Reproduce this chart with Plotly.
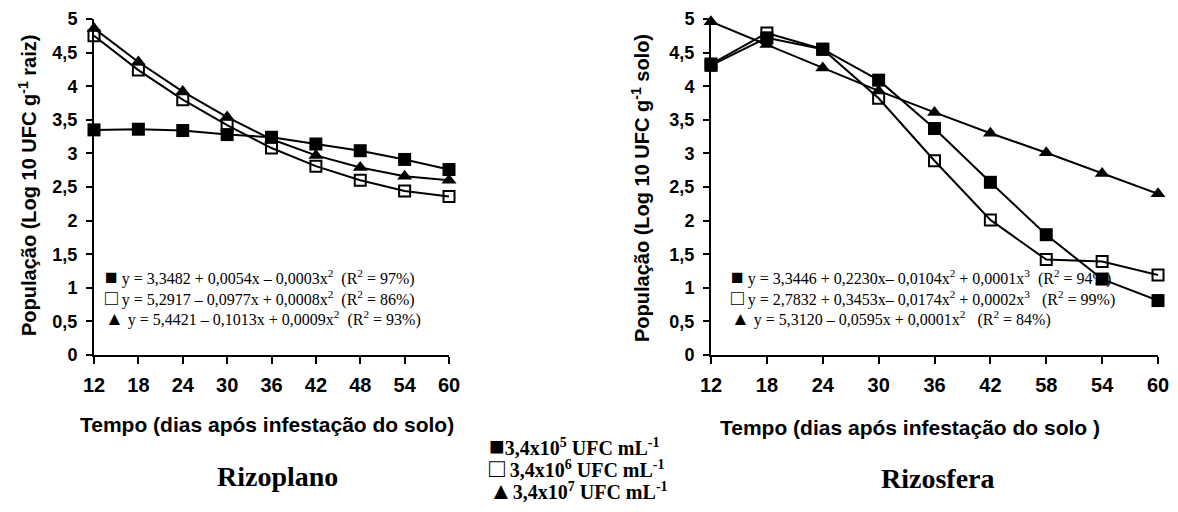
import plotly.graph_objects as go

# ---------------- data ----------------
cats_rizoplano = ["12", "18", "24", "30", "36", "42", "48", "54", "60"]
cats_rizosfera = ["12", "18", "24", "30", "36", "42", "58", "54", "60"]

rizoplano_1e5 = [3.35, 3.36, 3.34, 3.28, 3.24, 3.14, 3.04, 2.91, 2.76]
rizoplano_1e6 = [4.75, 4.24, 3.80, 3.42, 3.08, 2.81, 2.60, 2.44, 2.36]
rizoplano_1e7 = [4.86, 4.36, 3.92, 3.54, 3.21, 2.97, 2.79, 2.66, 2.60]

rizosfera_1e5 = [4.31, 4.72, 4.55, 4.09, 3.37, 2.57, 1.79, 1.13, 0.81]
rizosfera_1e6 = [4.33, 4.79, 4.55, 3.82, 2.89, 2.01, 1.42, 1.39, 1.19]
rizosfera_1e7 = [4.96, 4.62, 4.27, 3.93, 3.61, 3.30, 3.01, 2.70, 2.40]

y_tickvals = [0, 0.5, 1, 1.5, 2, 2.5, 3, 3.5, 4, 4.5, 5]
y_ticktext = ["0", "0,5", "1", "1,5", "2", "2,5", "3", "3,5", "4", "4,5", "5"]

SYM_SQ = '<span style="font-size:21px">■</span>'
SYM_OSQ = '<span style="font-size:21px">□</span>'
SYM_TRI = '<span style="font-size:19px">▲</span>'

eq_rizoplano = [
    SYM_SQ + " y = 3,3482 + 0,0054x – 0,0003x<sup>2</sup>  (R<sup>2</sup> = 97%)",
    SYM_OSQ + " y = 5,2917 – 0,0977x + 0,0008x<sup>2</sup>  (R<sup>2</sup> = 86%)",
    SYM_TRI + " y = 5,4421 – 0,1013x + 0,0009x<sup>2</sup>  (R<sup>2</sup> = 93%)",
]
eq_rizosfera = [
    SYM_SQ + " y = 3,3446 + 0,2230x– 0,0104x<sup>2</sup> + 0,0001x<sup>3</sup>  (R<sup>2</sup> = 94%)",
    SYM_OSQ + " y = 2,7832 + 0,3453x– 0,0174x<sup>2</sup> + 0,0002x<sup>3</sup>   (R<sup>2</sup> = 99%)",
    SYM_TRI + " y = 5,3120 – 0,0595x + 0,0001x<sup>2</sup>   (R<sup>2</sup> = 84%)",
]
legend_labels = [
    '<span style="font-size:26px">■</span>3,4x10<sup>5</sup> UFC mL<sup>-1</sup>',
    '<span style="font-size:26px">□</span> 3,4x10<sup>6</sup> UFC mL<sup>-1</sup>',
    '<span style="font-size:24px">▲</span>3,4x10<sup>7</sup> UFC mL<sup>-1</sup>',
]

# ---------------- figure ----------------
# The page body has an 8px default margin; the figure is sized so that it
# fits the 1178x512 window and reference pixel positions are offset by 8px.
OFF = 8
W, H = 1178 - 2 * OFF, 512 - 2 * OFF
SANS = "Liberation Sans, Arial, sans-serif"
SERIF = "Liberation Serif, Times New Roman, serif"

def px_x(p):
    return (p - OFF) / W

def px_y(p):
    return 1 - (p - OFF) / H

fig = go.Figure()

series_style = [
    dict(symbol="square", size=13, color="black", line=dict(width=0)),
    dict(symbol="square-open", size=11, color="black", line=dict(width=2, color="black")),
    dict(symbol="triangle-up", size=13, color="black", line=dict(width=0)),
]

for cats, vals_list, xa, ya in [
    (cats_rizoplano, [rizoplano_1e5, rizoplano_1e6, rizoplano_1e7], "x", "y"),
    (cats_rizosfera, [rizosfera_1e5, rizosfera_1e6, rizosfera_1e7], "x2", "y2"),
]:
    for vals, mk in zip(vals_list, series_style):
        fig.add_trace(go.Scatter(
            x=cats, y=vals, xaxis=xa, yaxis=ya, mode="lines+markers",
            line=dict(color="black", width=2), marker=mk,
            cliponaxis=False, showlegend=False,
        ))

ydom = [px_y(355), px_y(19)]

common_x = dict(
    type="category", range=[0, 8], showline=True, linewidth=2, linecolor="black",
    ticks="outside", ticklen=7, tickwidth=2, tickcolor="black",
    showgrid=False, zeroline=False, automargin=False,
    tickfont=dict(family=SANS, size=20, color="black", weight="bold"),
    ticklabelstandoff=4,
)
common_y = dict(
    range=[0, 5], showline=True, linewidth=2, linecolor="black",
    ticks="outside", ticklen=6, tickwidth=2, tickcolor="black",
    showgrid=False, zeroline=False, automargin=False,
    tickvals=y_tickvals, ticktext=y_ticktext,
    tickfont=dict(family=SANS, size=18, color="black", weight="bold"),
    ticklabelstandoff=5, domain=ydom,
)

fig.update_layout(
    width=W, height=H, margin=dict(l=0, r=0, t=0, b=0, autoexpand=False),
    paper_bgcolor="white", plot_bgcolor="white",
    xaxis=dict(common_x, domain=[px_x(94), px_x(449)], anchor="y"),
    yaxis=dict(common_y, anchor="x"),
    xaxis2=dict(common_x, domain=[px_x(711), px_x(1158)], anchor="y2"),
    yaxis2=dict(common_y, anchor="x2"),
)

ann = []
# y-axis titles
ann.append(dict(x=px_x(27), y=px_y(186), text="<b>População (Log 10 UFC g<sup>-1</sup> raiz)</b>",
                textangle=-90, font=dict(family=SANS, size=20, color="black")))
ann.append(dict(x=px_x(640), y=px_y(188), text="<b>População (Log 10 UFC g<sup>-1</sup> solo)</b>",
                textangle=-90, font=dict(family=SANS, size=20, color="black")))
# x-axis titles
ann.append(dict(x=px_x(267), y=px_y(424), text="<b>Tempo (dias após infestação do solo)</b>",
                font=dict(family=SANS, size=21, color="black")))
ann.append(dict(x=px_x(910), y=px_y(427), text="<b>Tempo (dias após infestação do solo )</b>",
                font=dict(family=SANS, size=21, color="black")))
# panel names
ann.append(dict(x=px_x(277), y=px_y(476), text="<b>Rizoplano</b>",
                font=dict(family=SERIF, size=28, color="black")))
ann.append(dict(x=px_x(938), y=px_y(478), text="<b>Rizosfera</b>",
                font=dict(family=SERIF, size=28, color="black")))
# equations
for i, t in enumerate(eq_rizoplano):
    ann.append(dict(x=px_x(103), y=px_y(277 + 20.5 * i), text=t, xanchor="left",
                    font=dict(family=SERIF, size=16, color="black")))
for i, t in enumerate(eq_rizosfera):
    ann.append(dict(x=px_x(729), y=px_y(277 + 20.5 * i), text=t, xanchor="left",
                    font=dict(family=SERIF, size=16, color="black")))
# legend
for i, t in enumerate(legend_labels):
    ann.append(dict(x=px_x(487), y=px_y(446 + 22.5 * i), text="<b>" + t + "</b>", xanchor="left",
                    font=dict(family=SERIF, size=20, color="black")))

for a in ann:
    a.setdefault("xanchor", "center")
    a.update(xref="paper", yref="paper", yanchor="middle", showarrow=False)
fig.update_layout(annotations=ann)

fig.write_html("out.html")
